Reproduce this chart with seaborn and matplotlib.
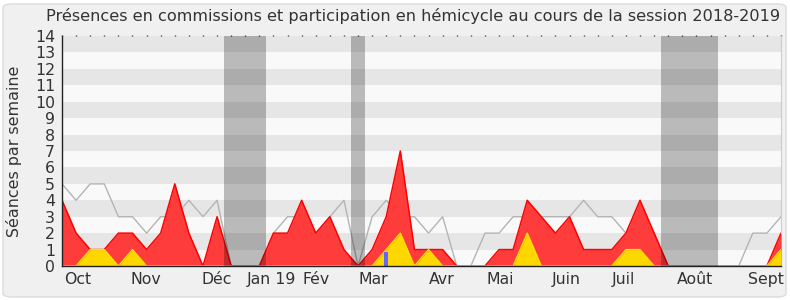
import numpy as np
import pandas as pd
import matplotlib
matplotlib.use("Agg")
import matplotlib.pyplot as plt
from matplotlib.patches import FancyBboxPatch
import seaborn as sns

# ---- data ----
weeks = list(range(52))
commissions = [4, 2, 1, 1, 2, 2, 1, 2, 5, 2, 0, 3, 0, 0, 0, 2, 2, 4, 2, 3, 1, 0, 1, 3, 7, 1,
               1, 1, 0, 0, 0, 1, 1, 4, 3, 2, 3, 1, 1, 1, 2, 4, 2, 0, 0, 0, 0, 0, 0, 0, 0, 2]
hemicycle = [0, 0, 1, 1, 0, 1, 0, 0, 0, 0, 0, 0, 0, 0, 0, 0, 0, 0, 0, 0, 0, 0, 0, 1, 2, 0,
             1, 0, 0, 0, 0, 0, 0, 2, 0, 0, 0, 0, 0, 0, 1, 1, 0, 0, 0, 0, 0, 0, 0, 0, 0, 1]
median_deputes = [5, 4, 5, 5, 3, 3, 2, 3, 3, 4, 3, 4, 0, 0, 0, 2, 3, 3, 2, 3, 4, 0, 3, 4, 3, 3,
                  2, 3, 0, 0, 2, 2, 3, 3, 3, 3, 3, 4, 3, 3, 2, 3, 2, 0, 0, 0, 0, 0, 0, 2, 2, 3]
questions_week = [23]
questions_val = [0.87]
vacances = [(11.5, 14.5), (20.5, 21.5), (42.5, 46.5)]
month_labels = ["Oct", "Nov", "Déc", "Jan 19", "Fév", "Mar", "Avr", "Mai", "Juin", "Juil", "Août", "Sept"]
month_pos = [1.1, 5.95, 10.95, 14.85, 18.05, 22.05, 26.95, 31.1, 35.8, 39.8, 44.9, 49.9]

df = pd.DataFrame({"semaine": weeks, "commissions": commissions,
                   "hemicycle": hemicycle, "mediane": median_deputes})

sns.set_style("white")
plt.rcParams["font.family"] = ["DejaVu Sans"]

W, H = 790, 300
fig = plt.figure(figsize=(W / 100, H / 100), dpi=100, facecolor="white")
fig.add_artist(FancyBboxPatch((3 / W, 3 / H), 783 / W, 293 / H,
                              boxstyle="round,pad=0,rounding_size=0.012",
                              transform=fig.transFigure, facecolor="#f0f0f0",
                              edgecolor="#dcdcdc", linewidth=1, zorder=-10))

ax = fig.add_axes([62 / W, 34 / H, 719 / W, 230 / H])
ax.set_facecolor("#f9f9f9")
ax.set_xlim(0, 51)
ax.set_ylim(0, 14)

# horizontal stripes
for k in range(1, 14, 2):
    ax.axhspan(k, k + 1, color="#e6e6e6", zorder=0, lw=0)

# grey median line
sns.lineplot(data=df, x="semaine", y="mediane", ax=ax, color="#b4b4b4",
             linewidth=1, zorder=2, legend=False)

# red area (commissions)
ax.fill_between(df["semaine"], df["commissions"], color="#ff3c3c", lw=0, zorder=3)
ax.plot(df["semaine"], df["commissions"], color="#ff0000", lw=1.1, zorder=4)

# yellow area (hemicycle)
ax.fill_between(df["semaine"], df["hemicycle"], color="#ffd700", lw=0, zorder=5)
ax.plot(df["semaine"], df["hemicycle"], color="#ffe000", lw=1.0, zorder=6)

# blue bars
ax.bar(questions_week, questions_val, width=0.31, color="#6464ff", zorder=7, lw=0)

# vacation bands
for a, b in vacances:
    ax.axvspan(a, b, color="black", alpha=0.25, lw=0, zorder=8)

# axes styling
ax.spines["top"].set_visible(False)
ax.spines["right"].set_color("#cccccc")
ax.spines["right"].set_linewidth(0.8)
for s in ["left", "bottom"]:
    ax.spines[s].set_color("#222222")
    ax.spines[s].set_linewidth(1)
    ax.spines[s].set_zorder(10)

ax.set_yticks(range(0, 15))
ax.set_yticklabels([str(v) for v in range(0, 15)], fontsize=11.3, color="#333333")
ax.tick_params(axis="y", direction="out", length=4, width=1, color="#222222", pad=1)

ax.set_xticks(weeks, minor=True)
ax.set_xticks(month_pos)
ax.set_xticklabels(month_labels, fontsize=11.3, color="#333333")
ax.tick_params(axis="x", which="major", length=0, pad=4)
ax.tick_params(axis="x", which="minor", direction="out", length=4, width=1,
               color="#222222", top=True, labeltop=False)
for t in ax.xaxis.get_minor_ticks():
    t.tick2line.set_markersize(1)
    t.tick2line.set_color("#444444")

ax.set_xlabel("")
ax.set_ylabel("Séances par semaine", fontsize=11.4, color="#333333", labelpad=9)

fig.text(0.523, 1 - 16 / H,
         "Présences en commissions et participation en hémicycle au cours de la session 2018-2019",
         ha="center", va="center", fontsize=11.6, color="#333333")

fig.savefig("out.png", dpi=100, facecolor=fig.get_facecolor())
